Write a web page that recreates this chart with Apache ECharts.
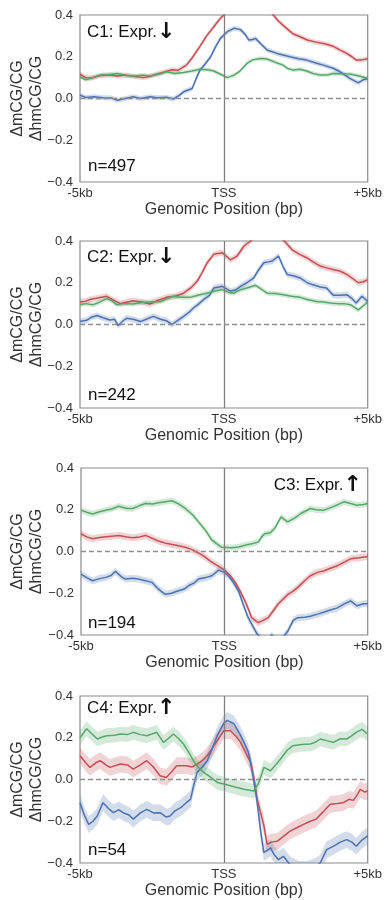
<!DOCTYPE html>
<html><head><meta charset="utf-8">
<script src="https://cdn.jsdelivr.net/npm/echarts@6/dist/echarts.min.js"></script>
<style>html,body{margin:0;padding:0;background:#fff}#c{width:385px;height:900px}</style>
</head><body><div id="c"></div>
<script>
// ---- tick labels & annotations ----
const xTickLabels = ['-5kb', 'TSS', '+5kb'];
const yTickLabels = ['\u22120.4', '\u22120.2', '0.0', '0.2', '0.4'];
const panelLabels = ['C1: Expr.', 'C2: Expr.', 'C3: Expr.', 'C4: Expr.'];
const panelArrows = ['\u2193', '\u2193', '\u2191', '\u2191'];
const panelCounts = ['n=497', 'n=242', 'n=194', 'n=54'];
const seriesNames = ['red', 'blue', 'green'];

// ---- series values: [position (kb), value] ----
const c1Red = [[-5,0.117],[-4.8,0.1],[-4.6,0.098],[-4.3,0.11],[-4.0,0.112],[-3.7,0.108],[-3.4,0.112],[-3.1,0.105],[-2.8,0.1],[-2.6,0.105],[-2.3,0.118],[-2.0,0.13],[-1.8,0.138],[-1.6,0.135],[-1.3,0.16],[-1.1,0.195],[-0.83,0.25],[-0.6,0.3],[-0.37,0.34],[-0.15,0.38],[0,0.4],[0.3,0.45],[0.8,0.5],[1.3,0.47],[1.72,0.4],[1.9,0.37],[2.18,0.336],[2.4,0.31],[2.65,0.296],[2.9,0.28],[3.2,0.27],[3.5,0.262],[3.8,0.25],[4.0,0.235],[4.27,0.216],[4.45,0.2],[4.6,0.184],[4.8,0.185],[5,0.19]];
const c1Blue = [[-5,0.016],[-4.8,0.005],[-4.5,0.008],[-4.2,0.004],[-3.9,0.002],[-3.7,-0.008],[-3.5,-0.002],[-3.15,0.008],[-2.9,0.0],[-2.57,0.008],[-2.3,0.004],[-2.0,0.006],[-1.75,-0.002],[-1.55,0.015],[-1.4,0.032],[-1.1,0.048],[-0.95,0.1],[-0.83,0.136],[-0.65,0.165],[-0.46,0.2],[-0.3,0.245],[-0.12,0.288],[0.12,0.32],[0.35,0.336],[0.58,0.33],[0.75,0.305],[0.87,0.28],[1.0,0.283],[1.1,0.288],[1.3,0.26],[1.5,0.232],[1.85,0.216],[2.3,0.2],[2.6,0.19],[2.88,0.184],[3.2,0.17],[3.46,0.16],[3.8,0.145],[4.04,0.128],[4.38,0.096],[4.67,0.075],[4.85,0.09],[5,0.096]];
const c1Green = [[-5,0.104],[-4.8,0.09],[-4.55,0.1],[-4.3,0.112],[-4.0,0.114],[-3.7,0.12],[-3.4,0.11],[-3.15,0.107],[-2.8,0.112],[-2.57,0.108],[-2.2,0.118],[-2.0,0.128],[-1.7,0.12],[-1.4,0.125],[-1.1,0.132],[-0.83,0.14],[-0.6,0.138],[-0.37,0.133],[-0.1,0.115],[0.12,0.1],[0.35,0.112],[0.55,0.13],[0.8,0.168],[1.0,0.185],[1.27,0.192],[1.45,0.19],[1.6,0.184],[1.85,0.17],[2.06,0.16],[2.2,0.145],[2.4,0.136],[2.65,0.14],[2.88,0.132],[3.1,0.12],[3.35,0.112],[3.6,0.113],[3.8,0.12],[4.1,0.118],[4.38,0.117],[4.7,0.108],[5,0.096]];

const c2Red = [[-5,0.108],[-4.8,0.112],[-4.65,0.12],[-4.35,0.128],[-4.07,0.135],[-3.85,0.118],[-3.6,0.1],[-3.35,0.108],[-3.15,0.114],[-2.85,0.108],[-2.57,0.098],[-2.3,0.115],[-2.0,0.13],[-1.7,0.135],[-1.4,0.15],[-1.15,0.175],[-0.93,0.207],[-0.75,0.25],[-0.58,0.296],[-0.35,0.336],[-0.06,0.344],[0.23,0.31],[0.46,0.328],[0.7,0.376],[0.93,0.4],[1.2,0.44],[1.6,0.45],[1.9,0.43],[2.1,0.4],[2.4,0.355],[2.65,0.335],[2.88,0.32],[3.1,0.3],[3.35,0.28],[3.6,0.27],[3.8,0.263],[4.05,0.255],[4.27,0.24],[4.5,0.218],[4.67,0.2],[4.85,0.205],[5,0.215]];
const c2Blue = [[-5,0.014],[-4.77,0.02],[-4.6,0.035],[-4.4,0.043],[-4.2,0.032],[-3.96,0.022],[-3.8,0.025],[-3.67,-0.005],[-3.5,0.018],[-3.38,0.03],[-3.15,0.025],[-2.9,0.014],[-2.7,0.025],[-2.45,0.039],[-2.2,0.025],[-2.0,0.018],[-1.8,0.0],[-1.6,0.02],[-1.4,0.039],[-1.2,0.06],[-1.06,0.079],[-0.9,0.095],[-0.7,0.12],[-0.5,0.14],[-0.35,0.175],[-0.06,0.183],[0.23,0.16],[0.4,0.165],[0.58,0.183],[0.8,0.2],[1.04,0.223],[1.2,0.26],[1.39,0.296],[1.55,0.3],[1.68,0.304],[1.9,0.328],[2.05,0.28],[2.2,0.24],[2.45,0.232],[2.65,0.223],[2.9,0.2],[3.1,0.19],[3.35,0.18],[3.57,0.175],[3.8,0.14],[4.05,0.14],[4.27,0.143],[4.45,0.125],[4.6,0.103],[4.8,0.135],[5,0.11]];
const c2Green = [[-5,0.095],[-4.8,0.1],[-4.54,0.095],[-4.3,0.108],[-4.07,0.124],[-3.9,0.115],[-3.73,0.095],[-3.5,0.1],[-3.15,0.098],[-2.85,0.105],[-2.57,0.108],[-2.2,0.11],[-2.0,0.122],[-1.76,0.135],[-1.5,0.13],[-1.18,0.13],[-0.9,0.14],[-0.6,0.15],[-0.3,0.16],[-0.06,0.167],[0.15,0.155],[0.35,0.15],[0.55,0.165],[0.8,0.175],[1.1,0.188],[1.3,0.17],[1.5,0.15],[1.8,0.148],[2.06,0.143],[2.35,0.135],[2.65,0.13],[2.9,0.12],[3.22,0.11],[3.45,0.108],[3.7,0.103],[3.95,0.1],[4.17,0.1],[4.4,0.095],[4.67,0.07],[4.85,0.09],[5,0.108]];

const c3Red = [[-5,0.085],[-4.8,0.07],[-4.6,0.061],[-4.3,0.068],[-4.03,0.072],[-3.68,0.077],[-3.4,0.07],[-3.2,0.066],[-2.95,0.07],[-2.75,0.077],[-2.5,0.062],[-2.3,0.05],[-2.05,0.04],[-1.82,0.034],[-1.6,0.028],[-1.36,0.02],[-1.15,0.01],[-1.0,0.0],[-0.8,-0.015],[-0.67,-0.027],[-0.5,-0.045],[-0.33,-0.06],[-0.15,-0.075],[0.03,-0.092],[0.2,-0.115],[0.38,-0.148],[0.55,-0.19],[0.72,-0.237],[0.85,-0.28],[0.95,-0.317],[1.18,-0.341],[1.35,-0.33],[1.53,-0.317],[1.7,-0.285],[1.87,-0.253],[2.05,-0.228],[2.22,-0.205],[2.4,-0.19],[2.56,-0.172],[2.8,-0.14],[3.0,-0.116],[3.25,-0.1],[3.48,-0.092],[3.7,-0.08],[3.94,-0.068],[4.2,-0.05],[4.4,-0.035],[4.7,-0.03],[5,-0.024]];
const c3Blue = [[-5,-0.108],[-4.8,-0.125],[-4.6,-0.14],[-4.35,-0.13],[-4.14,-0.124],[-3.95,-0.115],[-3.8,-0.095],[-3.6,-0.12],[-3.45,-0.132],[-3.2,-0.128],[-3.0,-0.132],[-2.75,-0.14],[-2.52,-0.148],[-2.3,-0.18],[-2.06,-0.205],[-1.85,-0.2],[-1.6,-0.188],[-1.4,-0.18],[-1.25,-0.164],[-1.05,-0.15],[-0.9,-0.132],[-0.65,-0.125],[-0.44,-0.116],[-0.2,-0.089],[0.0,-0.1],[0.14,-0.116],[0.3,-0.145],[0.49,-0.188],[0.65,-0.25],[0.83,-0.317],[1.0,-0.36],[1.12,-0.39],[1.3,-0.42],[1.5,-0.43],[1.65,-0.4],[1.8,-0.43],[2.0,-0.42],[2.22,-0.38],[2.4,-0.33],[2.56,-0.317],[2.8,-0.315],[3.0,-0.31],[3.25,-0.3],[3.48,-0.29],[3.7,-0.28],[3.94,-0.27],[4.2,-0.25],[4.4,-0.237],[4.63,-0.26],[4.85,-0.25],[5,-0.25]];
const c3Green = [[-5,0.198],[-4.8,0.188],[-4.6,0.18],[-4.35,0.19],[-4.14,0.198],[-3.9,0.205],[-3.68,0.217],[-3.4,0.206],[-3.2,0.206],[-2.95,0.22],[-2.75,0.23],[-2.5,0.228],[-2.3,0.233],[-2.0,0.24],[-1.82,0.243],[-1.6,0.228],[-1.36,0.206],[-1.1,0.175],[-0.9,0.142],[-0.65,0.1],[-0.44,0.056],[-0.25,0.035],[-0.09,0.02],[0.26,0.018],[0.5,0.022],[0.72,0.03],[1.0,0.038],[1.18,0.045],[1.3,0.07],[1.41,0.085],[1.6,0.09],[1.75,0.11],[1.98,0.166],[2.2,0.142],[2.45,0.16],[2.67,0.182],[3.0,0.206],[3.2,0.2],[3.48,0.198],[3.8,0.215],[4.17,0.238],[4.4,0.23],[4.63,0.222],[4.85,0.225],[5,0.23]];

const c4Red = [[-5,0.114],[-4.8,0.08],[-4.65,0.058],[-4.45,0.08],[-4.3,0.09],[-4.1,0.07],[-3.96,0.058],[-3.6,0.074],[-3.35,0.07],[-3.15,0.05],[-2.9,0.07],[-2.68,0.09],[-2.45,0.06],[-2.22,0.018],[-2.0,0.01],[-1.8,0.04],[-1.64,0.066],[-1.3,0.066],[-1.1,0.06],[-0.93,0.074],[-0.75,0.09],[-0.58,0.114],[-0.4,0.15],[-0.23,0.186],[0.0,0.234],[0.23,0.234],[0.4,0.21],[0.58,0.178],[0.75,0.13],[0.93,0.082],[1.05,0.0],[1.16,-0.095],[1.28,-0.16],[1.39,-0.22],[1.5,-0.31],[1.65,-0.3],[1.85,-0.296],[2.05,-0.275],[2.3,-0.247],[2.55,-0.23],[2.77,-0.215],[3.0,-0.2],[3.2,-0.19],[3.45,-0.155],[3.7,-0.119],[3.95,-0.115],[4.17,-0.11],[4.35,-0.095],[4.5,-0.1],[4.65,-0.07],[4.74,-0.047],[4.9,-0.06],[5,-0.055]];
const c4Blue = [[-5,-0.111],[-4.85,-0.17],[-4.7,-0.215],[-4.55,-0.2],[-4.4,-0.175],[-4.2,-0.111],[-4.0,-0.14],[-3.84,-0.159],[-3.65,-0.145],[-3.5,-0.159],[-3.3,-0.17],[-3.15,-0.19],[-2.9,-0.16],[-2.68,-0.143],[-2.45,-0.16],[-2.22,-0.159],[-2.0,-0.18],[-1.87,-0.175],[-1.7,-0.15],[-1.5,-0.135],[-1.3,-0.11],[-1.16,-0.095],[-1.05,-0.03],[-0.93,0.034],[-0.75,0.06],[-0.58,0.09],[-0.4,0.15],[-0.23,0.21],[0.0,0.27],[0.12,0.283],[0.35,0.267],[0.55,0.22],[0.7,0.178],[0.85,0.13],[0.93,0.082],[1.05,-0.01],[1.16,-0.111],[1.28,-0.25],[1.39,-0.35],[1.5,-0.34],[1.62,-0.328],[1.75,-0.36],[1.9,-0.384],[2.07,-0.368],[2.3,-0.408],[2.6,-0.43],[2.9,-0.43],[3.2,-0.415],[3.35,-0.4],[3.57,-0.336],[3.8,-0.32],[4.05,-0.3],[4.27,-0.288],[4.45,-0.3],[4.6,-0.32],[4.8,-0.29],[5,-0.27]];
const c4Green = [[-5,0.2],[-4.77,0.243],[-4.6,0.22],[-4.4,0.194],[-4.2,0.205],[-4.07,0.21],[-3.8,0.212],[-3.6,0.218],[-3.35,0.215],[-3.15,0.226],[-2.9,0.215],[-2.68,0.21],[-2.5,0.218],[-2.33,0.226],[-2.1,0.178],[-1.9,0.2],[-1.76,0.218],[-1.6,0.2],[-1.4,0.17],[-1.2,0.125],[-1.06,0.09],[-0.9,0.06],[-0.7,0.034],[-0.45,0.01],[-0.23,-0.014],[0.0,-0.022],[0.23,-0.03],[0.5,-0.04],[0.7,-0.047],[1.04,-0.055],[1.2,-0.02],[1.39,0.058],[1.62,0.042],[1.8,0.07],[1.97,0.098],[2.2,0.14],[2.4,0.162],[2.7,0.168],[3.0,0.17],[3.2,0.18],[3.35,0.194],[3.6,0.185],[3.8,0.178],[4.05,0.195],[4.27,0.194],[4.45,0.21],[4.6,0.226],[4.8,0.24],[5,0.218]];

// confidence band half-widths (red, blue, green) per panel
const bandC1 = [0.012, 0.012, 0.01];
const bandC2 = [0.015, 0.015, 0.012];
const bandC3 = [0.017, 0.017, 0.015];
const bandC4 = [0.04, 0.04, 0.035];

const panels = [
  { series: [c1Red, c1Blue, c1Green], band: bandC1 },
  { series: [c2Red, c2Blue, c2Green], band: bandC2 },
  { series: [c3Red, c3Blue, c3Green], band: bandC3 },
  { series: [c4Red, c4Blue, c4Green], band: bandC4 }
];

// ---- styling / layout ----
const colors = ['#C44E52', '#4C72B0', '#55A868'];
const bandColors = ['rgba(196,78,82,0.25)', 'rgba(76,114,176,0.25)', 'rgba(85,168,104,0.25)'];
const gridTops = [15, 241, 468, 696];
const gridLefts = [80, 80, 81, 80];
const gridH = 167, gridW = 288;
const FONT = '"Liberation Sans", Arial, sans-serif';
const textColor = '#333';

const grid = [], xAxis = [], yAxis = [], series = [], graphic = [];

panels.forEach((p, i) => {
  grid.push({ left: gridLefts[i], top: gridTops[i], width: gridW, height: gridH,
    show: true, borderColor: '#8a8a8a', borderWidth: 1.2, backgroundColor: 'transparent' });
  xAxis.push({ gridIndex: i, type: 'value', min: -5, max: 5, interval: 5,
    axisLine: { show: false }, axisTick: { show: false }, splitLine: { show: false },
    axisLabel: { margin: 5, fontSize: 13, fontFamily: FONT, color: textColor,
      formatter: v => xTickLabels[Math.round((v + 5) / 5)] },
    name: 'Genomic Position (bp)', nameLocation: 'middle', nameGap: 20,
    nameTextStyle: { fontSize: 16, fontFamily: FONT, color: textColor } });
  yAxis.push({ gridIndex: i, type: 'value', min: -0.4, max: 0.4, interval: 0.2,
    axisLine: { show: false }, axisTick: { show: false }, splitLine: { show: false },
    axisLabel: { margin: 7, fontSize: 13, fontFamily: FONT, color: textColor,
      formatter: v => yTickLabels[Math.round((v + 0.4) / 0.2)] } });

  // confidence bands drawn through the axis scales
  p.series.forEach((arr, k) => {
    const w = p.band[k];
    series.push({ type: 'custom', xAxisIndex: i, yAxisIndex: i, silent: true, z: 1,
      data: [[arr[0][0], arr[0][1]]],
      renderItem: (params, api) => {
        const pts = [];
        arr.forEach(d => pts.push(api.coord([d[0], d[1] + w])));
        for (let j = arr.length - 1; j >= 0; j--) pts.push(api.coord([arr[j][0], arr[j][1] - w]));
        const cs = params.coordSys;
        return { type: 'polygon', shape: { points: pts }, style: { fill: bandColors[k] },
          clipPath: { type: 'rect', shape: { x: cs.x, y: cs.y, width: cs.width, height: cs.height } } };
      } });
  });
  p.series.forEach((arr, k) => {
    const s = { type: 'line', name: seriesNames[k], xAxisIndex: i, yAxisIndex: i, data: arr,
      symbol: 'none', lineStyle: { color: colors[k], width: 1.5 }, z: 3, silent: true };
    if (k === 0) {
      s.markLine = { silent: true, symbol: 'none', label: { show: false }, animation: false,
        data: [
          { xAxis: 0, lineStyle: { color: '#7f7f7f', width: 1.3, type: 'solid' } },
          { yAxis: 0, lineStyle: { color: '#8f8f8f', width: 1.3, type: [5, 3] } }
        ] };
    }
    series.push(s);
  });

  // y-axis title
  graphic.push({ type: 'text', x: 27, y: gridTops[i] + gridH / 2, rotation: Math.PI / 2,
    style: { text: '\u0394mCG/CG\n\u0394hmCG/CG', fontSize: 16, fontFamily: FONT, fill: textColor,
      align: 'center', verticalAlign: 'middle', lineHeight: 19 } });
});

// panel annotations
const labelPos = [[87, 32, 'left'], [87, 257, 'left'], [362, 485, 'right'], [87, 708, 'left']];
const countPos = [[88, 166], [88, 395], [88, 623], [88, 850]];
panelLabels.forEach((t, i) => {
  graphic.push({ type: 'text', x: labelPos[i][0], y: labelPos[i][1],
    style: { text: '{a|' + t + '}{b|' + panelArrows[i] + '}', align: labelPos[i][2], verticalAlign: 'middle',
      rich: { a: { fontSize: 17, fontFamily: FONT, fill: '#111' },
              b: { fontSize: 22, fontFamily: '"DejaVu Sans"', fontWeight: 'bold', fill: '#111' } } } });
  graphic.push({ type: 'text', x: countPos[i][0], y: countPos[i][1],
    style: { text: panelCounts[i], fontSize: 17, fontFamily: FONT, fill: '#111',
      align: 'left', verticalAlign: 'middle' } });
});

const chart = echarts.init(document.getElementById('c'), null, { renderer: 'canvas' });
chart.setOption({ animation: false, backgroundColor: '#fff', grid, xAxis, yAxis, series, graphic });
</script></body></html>
